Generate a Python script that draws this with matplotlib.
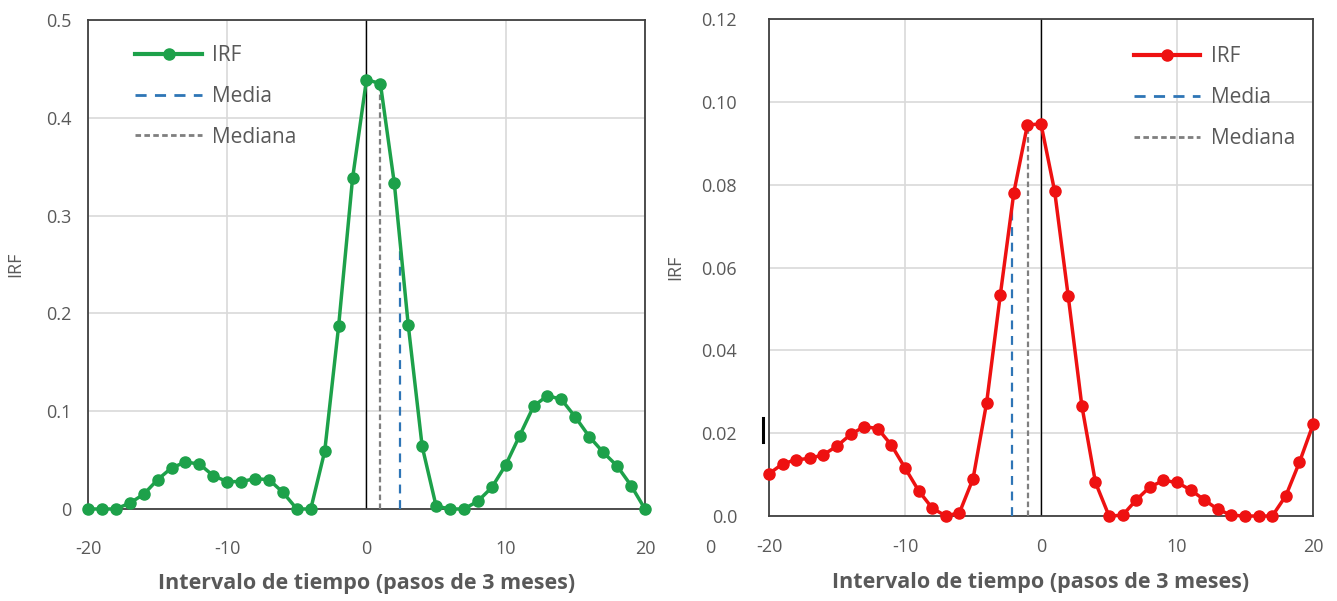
import matplotlib
matplotlib.use("Agg")
import matplotlib.pyplot as plt
from matplotlib.lines import Line2D
import numpy as np

lags = list(range(-20, 21))

irf_left = [0.0, 0.0, 0.0, 0.006, 0.015, 0.030, 0.042, 0.048, 0.046, 0.034,
            0.028, 0.028, 0.031, 0.030, 0.017, 0.0, 0.0, 0.059, 0.187, 0.338,
            0.439, 0.435, 0.333, 0.188, 0.064, 0.003, 0.0, 0.0, 0.008, 0.022,
            0.045, 0.075, 0.105, 0.116, 0.112, 0.094, 0.074, 0.058, 0.044, 0.024,
            0.0]
media_left = 2.44
mediana_left = 0.95

irf_right = [0.0102, 0.0126, 0.0136, 0.0139, 0.0148, 0.0169, 0.0197, 0.0216, 0.0211, 0.0171,
             0.0116, 0.0061, 0.0019, 0.0, 0.0008, 0.0090, 0.0274, 0.0533, 0.0781, 0.0945,
             0.0946, 0.0784, 0.0530, 0.0266, 0.0081, 0.0, 0.0002, 0.0039, 0.0070, 0.0086,
             0.0081, 0.0063, 0.0039, 0.0016, 0.0002, 0.0, 0.0, 0.0, 0.0049, 0.0130,
             0.0221]
media_right = -2.15
mediana_right = -0.94

xticks = [-20, -10, 0, 10, 20]
yticks_left = [0, 0.1, 0.2, 0.3, 0.4, 0.5]
ytick_labels_left = ["0", "0.1", "0.2", "0.3", "0.4", "0.5"]
yticks_right = [0, 0.02, 0.04, 0.06, 0.08, 0.10, 0.12]
ytick_labels_right = ["0.0", "0.02", "0.04", "0.06", "0.08", "0.10", "0.12"]

plt.rcParams["font.family"] = ["Open Sans", "DejaVu Sans"]
plt.rcParams["axes.unicode_minus"] = False
gray_txt = "#595959"

fig = plt.figure(figsize=(13.37, 6.01), dpi=100)
ax1 = fig.add_axes([0.0658, 0.1531, 0.4166, 0.8136])
ax2 = fig.add_axes([0.5752, 0.1414, 0.4069, 0.8270])


def draw(ax, y, color, media, mediana, yticks, ylabels, ymax, xpad, ypad, legend_loc):
    ax.set_xlim(-20, 20)
    ax.set_ylim(0, ymax)
    ax.set_xticks(xticks)
    ax.set_yticks(yticks)
    ax.set_yticklabels(ylabels)
    ax.grid(True, color="#d9d9d9", lw=1.2)
    ax.set_axisbelow(True)
    ax.tick_params(length=0, labelsize=13, colors=gray_txt)
    ax.tick_params(axis="x", pad=xpad)
    ax.tick_params(axis="y", pad=ypad)
    for s in ax.spines.values():
        s.set_color("#404040")
        s.set_linewidth(1.3)
    ax.axvline(0, color="black", lw=1.0, zorder=2)

    # media / mediana drawn up to the curve
    ym = np.interp(media, lags, y)
    yd = np.interp(mediana, lags, y)
    ax.plot([media, media], [0, ym], color="#2E75B6", lw=1.6, ls=(0, (4, 3)), zorder=3)
    ax.plot([mediana, mediana], [0, yd], color="#7F7F7F", lw=1.6, ls=(0, (2.5, 1.5)), zorder=3)

    ax.plot(lags, y, color=color, lw=2.5, marker="o", ms=8, zorder=4, clip_on=False)

    handles = [
        Line2D([], [], color=color, lw=3, marker="o", ms=8),
        Line2D([], [], color="#2E75B6", lw=2, ls=(0, (4, 3))),
        Line2D([], [], color="#7F7F7F", lw=2, ls=(0, (2, 1.2))),
    ]
    ax.legend(handles, ["IRF", "Media", "Mediana"], loc=legend_loc, frameon=False,
              fontsize=15, labelcolor=gray_txt, handlelength=3.2, labelspacing=0.95,
              handletextpad=0.5)

    ax.set_xlabel("Intervalo de tiempo (pasos de 3 meses)", fontsize=15.5,
                  fontweight="bold", color=gray_txt, labelpad=11)
    ax.set_ylabel("IRF", fontsize=13, color=gray_txt)


draw(ax1, irf_left, "#1DA14A", media_left, mediana_left, yticks_left,
     ytick_labels_left, 0.5, 22, 12, (0.07, 0.722))
draw(ax2, irf_right, "#EE1111", media_right, mediana_right, yticks_right,
     ytick_labels_right, 0.12, 16, 23, (0.655, 0.722))
ax1.yaxis.set_label_coords(-0.115, 0.5)
ax2.yaxis.set_label_coords(-0.155, 0.5)

# stray marks that appear in the original picture
fig.text(710 / 1337, 1 - 548 / 601, "0", fontsize=13, color=gray_txt, ha="center", va="center")
fig.add_artist(Line2D([763 / 1337, 763 / 1337], [1 - 418 / 601, 1 - 442 / 601],
                      color="black", lw=2.2, transform=fig.transFigure))

fig.savefig("out.png", dpi=100, facecolor="white")
